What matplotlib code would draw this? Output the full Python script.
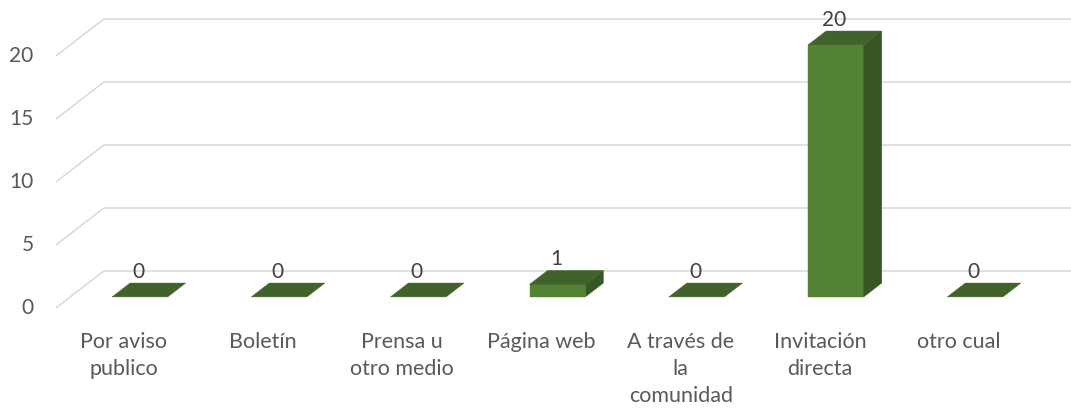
import matplotlib
matplotlib.use("Agg")
import matplotlib.pyplot as plt
from matplotlib.patches import Polygon

categories = ["Por aviso\npublico", "Boletín", "Prensa u\notro medio", "Página web",
              "A través de\nla\ncomunidad", "Invitación\ndirecta", "otro cual"]
values = [0, 0, 0, 1, 0, 20, 0]
yticks = [0, 5, 10, 15, 20]

plt.rcParams['font.family'] = ['Lato', 'DejaVu Sans']

W, H = 1071, 408
fig = plt.figure(figsize=(W / 100, H / 100), dpi=100)
ax = fig.add_axes([0, 0, 1, 1])

# pixel geometry of the 3D projection
x0px, xstep = 125.5, 139.2
y0px, ystep = 308.0, 12.6
ax.set_xlim(-x0px / xstep, (W - x0px) / xstep)
ax.set_ylim((y0px - H) / ystep, y0px / ystep)
ax.axis('off')

DX = 48 / xstep      # full depth offset in category units
DY = 37 / ystep      # full depth offset in value units
f1, f2 = 0.30, 0.675
bw = 0.40

n = len(categories)
grid_col = '#d9d9d9'
for t in yticks:
    ax.plot([-0.5, -0.5 + DX, n - 0.5 + DX + 1], [t, t + DY, t + DY],
            color=grid_col, lw=1.1, zorder=1, solid_capstyle='butt')
    ax.annotate(str(t), xy=(-0.5, t), xytext=(-16, 0), textcoords='offset points',
                ha='right', va='center', fontsize=15, color='#595959')

front_c, top_c, side_c = '#548235', '#41622a', '#375623'
for i, v in enumerate(values):
    xl = i - bw / 2 + f1 * DX
    xr = i + bw / 2 + f1 * DX
    yb = f1 * DY
    yt = v + f1 * DY
    ddx = (f2 - f1) * DX
    ddy = (f2 - f1) * DY
    if v > 0:
        ax.add_patch(Polygon([(xl, yb), (xr, yb), (xr, yt), (xl, yt)],
                             closed=True, fc=front_c, ec=front_c, lw=0.3, zorder=3))
        ax.add_patch(Polygon([(xr, yb), (xr + ddx, yb + ddy), (xr + ddx, yt + ddy), (xr, yt)],
                             closed=True, fc=side_c, ec=side_c, lw=0.3, zorder=3))
    ax.add_patch(Polygon([(xl, yt), (xr, yt), (xr + ddx, yt + ddy), (xl + ddx, yt + ddy)],
                         closed=True, fc=top_c, ec=top_c, lw=0.3, zorder=3))
    ax.annotate(str(v), xy=(i + f1 * DX - 0.01, yt + ddy), xytext=(0, 8),
                textcoords='offset points', ha='center', va='center',
                fontsize=15, color='#404040', zorder=4)

for i, c in enumerate(categories):
    ax.annotate(c, xy=(i - 0.012, 0), xytext=(0, -17), textcoords='offset points',
                ha='center', va='top', fontsize=15.5, color='#595959',
                linespacing=1.44)

fig.savefig("out.png", dpi=100)
